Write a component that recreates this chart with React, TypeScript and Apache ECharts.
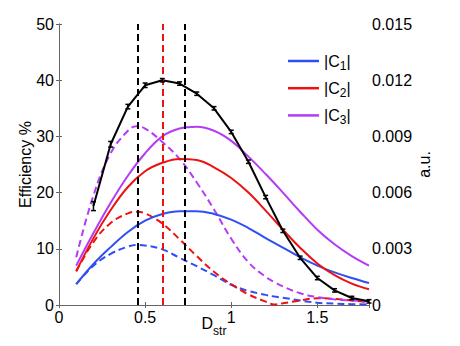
import React, { useEffect, useRef } from "react";
import * as echarts from "echarts";

// x grid (D_str) for the solid |C| curves
const dSolid = [0.1, 0.2, 0.3, 0.4, 0.5, 0.6, 0.7, 0.8, 0.9, 1.0, 1.1, 1.2, 1.3, 1.4, 1.5, 1.6, 1.7, 1.8];
const c1Solid = [0.00111, 0.00219, 0.00309, 0.0039, 0.0045, 0.00486, 0.00501, 0.00501, 0.00486, 0.00456, 0.00411, 0.00357, 0.00306, 0.00255, 0.0021, 0.00174, 0.00144, 0.00117];
const c2Solid = [0.0018, 0.00357, 0.00507, 0.0063, 0.00714, 0.00759, 0.0078, 0.00774, 0.00735, 0.00678, 0.006, 0.00504, 0.00402, 0.00306, 0.00222, 0.00159, 0.00114, 0.00084];
const c3Solid = [0.0021, 0.00384, 0.00546, 0.0069, 0.0081, 0.009, 0.00942, 0.00951, 0.0093, 0.00876, 0.00792, 0.00699, 0.006, 0.00498, 0.00402, 0.00324, 0.00261, 0.0021];

// x grid for the dashed |C| curves
const dDashed = [0.1, 0.2, 0.3, 0.4, 0.45, 0.5, 0.6, 0.7, 0.8, 0.9, 1.0, 1.1, 1.2, 1.25, 1.3, 1.4, 1.5, 1.6, 1.7, 1.8];
const c1Dashed = [0.00111, 0.0021, 0.00273, 0.00312, 0.00321, 0.00318, 0.00297, 0.00252, 0.00207, 0.00159, 0.00108, 0.00075, 0.00054, 0.00045, 0.00039, 0.00024, 0.00012, 0.000075, 0.000045, 0.00003];
const c2Dashed = [0.0018, 0.00336, 0.00438, 0.00489, 0.00498, 0.00489, 0.00435, 0.00351, 0.00261, 0.00177, 0.00111, 0.00057, 0.00018, 0.00003, 0.00009, 0.00024, 0.00036, 0.00033, 0.00024, 0.00015];
const c3Dashed = [0.00255, 0.00585, 0.0081, 0.0093, 0.00954, 0.00942, 0.0087, 0.0078, 0.00654, 0.0051, 0.00354, 0.00228, 0.0015, 0.00123, 0.00099, 0.00063, 0.00042, 0.0003, 0.00024, 0.00018];

// measured efficiency (%) with error bars
const dEff = [0.2, 0.3, 0.4, 0.5, 0.6, 0.7, 0.8, 0.9, 1.0, 1.1, 1.2, 1.3, 1.4, 1.5, 1.6, 1.7, 1.8];
const efficiency = [17.6, 28.6, 35.3, 39.1, 40.0, 39.4, 37.6, 35.0, 30.8, 25.5, 19.2, 13.2, 8.4, 4.8, 2.6, 1.25, 0.65];
const effError = [0.8, 0.5, 0.4, 0.4, 0.3, 0.3, 0.3, 0.3, 0.3, 0.3, 0.3, 0.3, 0.3, 0.3, 0.3, 0.3, 0.3];

// vertical guide lines
const blackGuides = [0.46, 0.73];
const redGuides = [0.6];

const legendNames = ["C1", "C2", "C3"];

const BLUE = "#2f4ff2";
const RED = "#ee1111";
const PURPLE = "#b33cf4";
const FONT = "'Liberation Sans', Arial, sans-serif";
const AXIS = "#666666";

const zip = (xs: number[], ys: number[]) => xs.map((x, i) => [x, ys[i]]);

export default function App() {
  const ref = useRef<HTMLDivElement>(null);
  useEffect(() => {
    if (!ref.current) return;
    const chart = echarts.init(ref.current, undefined, { renderer: "svg" });
    const dash = [7, 4];
    const solid = (name: string, color: string, data: number[]) => ({
      name,
      type: "line",
      yAxisIndex: 1,
      data: zip(dSolid, data),
      smooth: 0.4,
      showSymbol: false,
      color,
      lineStyle: { color, width: 2 },
      z: 3,
    });
    const dashed = (name: string, color: string, data: number[]) => ({
      name,
      type: "line",
      yAxisIndex: 1,
      data: zip(dDashed, data),
      smooth: 0.4,
      showSymbol: false,
      color,
      lineStyle: { color, width: 2, type: dash },
      z: 3,
    });
    const option: any = {
      animation: false,
      textStyle: { fontFamily: FONT },
      grid: { left: 59, right: 91, top: 24, bottom: 41, containLabel: false, outerBoundsMode: "none" },
      legend: {
        data: legendNames,
        orient: "vertical",
        left: 283,
        top: 45,
        itemGap: 5.2,
        icon: "rect",
        itemWidth: 31,
        itemHeight: 2.5,
        selectedMode: false,
        formatter: (n: string) => `|C{s|${n.slice(1)}}|`,
        textStyle: {
          fontFamily: FONT,
          fontSize: 16,
          color: "#000",
          lineHeight: 22,
          verticalAlign: "bottom",
          rich: { s: { fontSize: 12, lineHeight: 12, fontFamily: FONT, verticalAlign: "bottom" } },
        },
      },
      xAxis: [
        {
          type: "value",
          min: 0,
          max: 1.8,
          interval: 0.5,
          name: "D{s|str}",
          nameLocation: "middle",
          nameGap: 10,
          nameMoveOverlap: false,
          nameTextStyle: {
            fontFamily: FONT,
            fontSize: 16,
            color: "#000",
            verticalAlign: "top",
            lineHeight: 16,
            rich: { s: { fontSize: 12, lineHeight: 12, padding: [10, 0, 0, 0], verticalAlign: "top", fontFamily: FONT } },
          },
          axisLine: { show: true, lineStyle: { color: AXIS, width: 1 } },
          axisTick: { show: true, inside: true, length: 3, lineStyle: { color: AXIS } },
          axisLabel: {
            margin: 4,
            fontSize: 16,
            fontFamily: FONT,
            color: "#000",
            formatter: (v: number) => (Math.abs(v / 0.5 - Math.round(v / 0.5)) < 1e-6 ? String(+v.toFixed(1)) : ""),
          },
          splitLine: { show: false },
        },
        {
          type: "value",
          position: "top",
          min: 0,
          max: 1.8,
          interval: 0.5,
          axisLine: { show: true, lineStyle: { color: AXIS, width: 1 } },
          axisTick: { show: true, inside: true, length: 3, lineStyle: { color: AXIS } },
          axisLabel: { show: false },
          splitLine: { show: false },
        },
      ],
      yAxis: [
        {
          type: "value",
          min: 0,
          max: 50,
          interval: 10,
          name: "Efficiency %",
          nameLocation: "middle",
          nameRotate: 90,
          nameGap: 26,
          nameMoveOverlap: false,
          nameTextStyle: { fontFamily: FONT, fontSize: 16, color: "#000" },
          axisLine: { show: true, lineStyle: { color: AXIS, width: 1 } },
          axisTick: { show: true, inside: true, length: 3, lineStyle: { color: AXIS } },
          axisLabel: { margin: 5, fontSize: 16, fontFamily: FONT, color: "#000" },
          splitLine: { show: false },
        },
        {
          type: "value",
          position: "right",
          min: 0,
          max: 0.015,
          interval: 0.003,
          name: "a.u.",
          nameLocation: "middle",
          nameRotate: 90,
          nameGap: 47,
          nameMoveOverlap: false,
          nameTextStyle: { fontFamily: FONT, fontSize: 16, color: "#000" },
          axisLine: { show: true, lineStyle: { color: AXIS, width: 1 } },
          axisTick: { show: true, inside: true, length: 3, lineStyle: { color: AXIS } },
          axisLabel: {
            margin: 3,
            fontSize: 16,
            fontFamily: FONT,
            color: "#000",
            formatter: (v: number) => (v === 0 ? "0" : v.toFixed(3)),
          },
          splitLine: { show: false },
        },
      ],
      series: [
        dashed("C1 dashed", BLUE, c1Dashed),
        dashed("C2 dashed", RED, c2Dashed),
        dashed("C3 dashed", PURPLE, c3Dashed),
        solid("C1", BLUE, c1Solid),
        solid("C2", RED, c2Solid),
        solid("C3", PURPLE, c3Solid),
        {
          name: "Efficiency",
          type: "line",
          yAxisIndex: 0,
          data: zip(dEff, efficiency),
          showSymbol: false,
          color: "#000",
          lineStyle: { color: "#000", width: 2 },
          z: 4,
        },
        {
          name: "Efficiency error",
          type: "custom",
          yAxisIndex: 0,
          data: dEff.map((d, i) => [d, efficiency[i], effError[i]]),
          encode: { x: 0, y: 1 },
          z: 5,
          renderItem: (params: any, api: any) => {
            const x = api.value(0);
            const y = api.value(1);
            const e = api.value(2);
            const top = api.coord([x, y + e]);
            const bot = api.coord([x, y - e]);
            const w = 2.5;
            const st = { stroke: "#000", lineWidth: 1.5 };
            return {
              type: "group",
              children: [
                { type: "line", shape: { x1: top[0], y1: top[1], x2: bot[0], y2: bot[1] }, style: st },
                { type: "line", shape: { x1: top[0] - w, y1: top[1], x2: top[0] + w, y2: top[1] }, style: st },
                { type: "line", shape: { x1: bot[0] - w, y1: bot[1], x2: bot[0] + w, y2: bot[1] }, style: st },
              ],
            };
          },
        },
        {
          name: "Guides",
          type: "line",
          yAxisIndex: 0,
          data: [],
          z: 6,
          markLine: {
            silent: true,
            symbol: ["none", "none"],
            label: { show: false },
            data: [
              ...blackGuides.map((x) => ({ xAxis: x, lineStyle: { color: "#000", width: 2, type: dash } })),
              ...redGuides.map((x) => ({ xAxis: x, lineStyle: { color: RED, width: 2, type: dash } })),
            ],
          },
        },
      ],
    };
    chart.setOption(option);
    return () => chart.dispose();
  }, []);
  return (
    <div
      ref={ref}
      style={{ position: "fixed", left: 0, top: 0, width: 460, height: 346, background: "#fff" }}
    />
  );
}
